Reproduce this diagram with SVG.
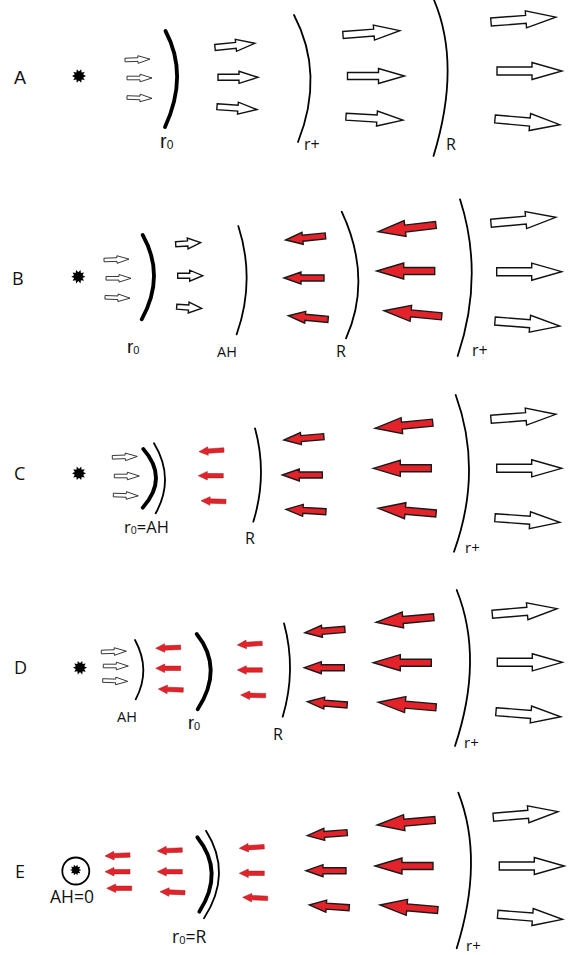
<svg xmlns="http://www.w3.org/2000/svg" xmlns:xlink="http://www.w3.org/1999/xlink" width="573" height="955" viewBox="0 0 573 955">
<style>
.w{fill:#fff;stroke:#111;stroke-width:1.4}
.ws{fill:#fff;stroke:#222;stroke-width:0.9}
.r{fill:#e3222a;stroke:#1a1a1a;stroke-width:1.4}
.rs{fill:#e3222a;stroke:#9a1a1a;stroke-width:0.5}
.arc{fill:none;stroke:#000;stroke-width:1.8;stroke-linecap:round}
.thick{stroke-width:3.8}
.t{font-family:"Open Sans","DejaVu Sans",sans-serif;fill:#111}
.a{font-family:"Liberation Sans",Arial,sans-serif;fill:#111}
.star{fill:#000}
</style>
<defs>
<path id="wL" d="M0,-4 L35,-4 L35,-8.5 L65,0 L35,8.5 L35,4 L0,4 Z"/>
<path id="wA2" d="M0,-3.5 L31,-3.5 L31,-7.5 L57,0 L31,7.5 L31,3.5 L0,3.5 Z"/>
<path id="wM" d="M0,-3 L21,-3 L21,-6 L40,0 L21,6 L21,3 L0,3 Z"/>
<path id="wB" d="M0,-2.5 L12,-2.5 L12,-5.5 L25,0 L12,5.5 L12,2.5 L0,2.5 Z"/>
<path id="wS" d="M0,-1.8 L13,-1.8 L13,-3.8 L25,0 L13,3.8 L13,1.8 L0,1.8 Z"/>
<path id="rL" d="M0,0 L27,-8 L27,-3.5 L58,-3.5 L58,3.5 L27,3.5 L27,8 Z"/>
<path id="rM" d="M0,0 L17,-6 L17,-3 L40,-3 L40,3 L17,3 L17,6 Z"/>
<path id="rS" d="M0,0 L9,-4.3 L9,-2.2 L25,-2.2 L25,2.2 L9,2.2 L9,4.3 Z"/>
<path id="star" d="M7,0 L4.2,1.4 L5.7,4.1 L2.6,3.6 L2.2,6.7 L0,4.4 L-2.2,6.7 L-2.6,3.6 L-5.7,4.1 L-4.2,1.4 L-7,0 L-4.2,-1.4 L-5.7,-4.1 L-2.6,-3.6 L-2.2,-6.7 L0,-4.4 L2.2,-6.7 L2.6,-3.6 L5.7,-4.1 L4.2,-1.4 Z"/>
</defs>

<g id="panel-A">
<text class="a" x="14" y="84" font-size="18">A</text>
<use href="#star" class="star" transform="translate(79,76)"/>
<g id="A-arrows">
<use href="#wS" class="ws" transform="translate(125,60) rotate(-2)"/>
<use href="#wS" class="ws" transform="translate(127,78)"/>
<use href="#wS" class="ws" transform="translate(127,97.5) rotate(2)"/>
<use href="#wM" class="w" transform="translate(215,47.5) rotate(-6)"/>
<use href="#wM" class="w" transform="translate(218,77.3)"/>
<use href="#wM" class="w" transform="translate(217,106.7) rotate(4)"/>
<use href="#wA2" class="w" transform="translate(343,35) rotate(-4.4)"/>
<use href="#wA2" class="w" transform="translate(347.5,76)"/>
<use href="#wA2" class="w" transform="translate(346,116.7) rotate(3.4)"/>
<use href="#wL" class="w" transform="translate(491,22) rotate(-4.3)"/>
<use href="#wL" class="w" transform="translate(497,71)"/>
<use href="#wL" class="w" transform="translate(495,119) rotate(5)"/>
</g>
<path class="arc thick" d="M165.5,31 Q189,75 165,127"/>
<path class="arc" d="M294,15 Q325,74 298,142"/>
<path class="arc" d="M434,0 Q461.5,65 433.5,156"/>
<text class="a" x="160" y="148" font-size="20">r<tspan font-size="12" dy="1">0</tspan></text>
<text class="t" x="304" y="150" font-size="16">r+</text>
<text class="t" x="446" y="150" font-size="16">R</text>
</g>

<g id="panel-B">
<text class="t" x="12" y="285" font-size="18">B</text>
<use href="#star" class="star" transform="translate(78.3,276.7)"/>
<g id="B-arrows">
<use href="#wS" class="ws" transform="translate(104,260) rotate(-2)"/>
<use href="#wS" class="ws" transform="translate(106,278.3)"/>
<use href="#wS" class="ws" transform="translate(105,297.3) rotate(2)"/>
<use href="#wB" class="w" transform="translate(175.7,244.3) rotate(-4)"/>
<use href="#wB" class="w" transform="translate(177.7,275.7)"/>
<use href="#wB" class="w" transform="translate(176.7,306.7) rotate(4)"/>
<use href="#rM" class="r" transform="translate(285.7,240) rotate(-5.9)"/>
<use href="#rM" class="r" transform="translate(284,278)"/>
<use href="#rM" class="r" transform="translate(288.3,315.7) rotate(5.3)"/>
<use href="#rL" class="r" transform="translate(378.3,231.7) rotate(-6.7)"/>
<use href="#rL" class="r" transform="translate(376.7,271)"/>
<use href="#rL" class="r" transform="translate(384,310.7) rotate(5.6)"/>
<use href="#wL" class="w" transform="translate(491,223.3) rotate(-5.3)"/>
<use href="#wL" class="w" transform="translate(496.7,271.7)"/>
<use href="#wL" class="w" transform="translate(495,321) rotate(4.5)"/>
</g>
<path class="arc thick" d="M142.7,235 Q165.8,276 141.7,319.3"/>
<path class="arc" d="M238.3,226 Q255.8,280 236.7,334.3"/>
<path class="arc" d="M341.7,211.7 Q372.8,278.4 346,338.3"/>
<path class="arc" d="M460,199.3 Q484.6,275.7 457.7,356"/>
<text class="a" x="127" y="353" font-size="19">r<tspan font-size="11" dy="1">0</tspan></text>
<text class="t" x="217" y="357" font-size="14.5">AH</text>
<text class="t" x="336" y="357" font-size="16">R</text>
<text class="t" x="472" y="356" font-size="16">r+</text>
</g>

<g id="panel-C">
<text class="t" x="14" y="480" font-size="18">C</text>
<use href="#star" class="star" transform="translate(79,473.3)"/>
<g id="C-arrows">
<use href="#wS" class="ws" transform="translate(112.3,457.3) rotate(-2)"/>
<use href="#wS" class="ws" transform="translate(114.3,476)"/>
<use href="#wS" class="ws" transform="translate(113.3,495) rotate(2)"/>
<use href="#rS" class="rs" transform="translate(199,451.7) rotate(-4)"/>
<use href="#rS" class="rs" transform="translate(198.3,475.7)"/>
<use href="#rS" class="rs" transform="translate(201,500.7) rotate(2)"/>
<use href="#rM" class="r" transform="translate(284,440) rotate(-4.8)"/>
<use href="#rM" class="r" transform="translate(282.3,475)"/>
<use href="#rM" class="r" transform="translate(286,509.3) rotate(3.5)"/>
<use href="#rL" class="r" transform="translate(375,428.3) rotate(-5.6)"/>
<use href="#rL" class="r" transform="translate(373.3,468.3)"/>
<use href="#rL" class="r" transform="translate(378.3,508.3) rotate(5.1)"/>
<use href="#wL" class="w" transform="translate(491,419.3) rotate(-4.4)"/>
<use href="#wL" class="w" transform="translate(496.7,468.3)"/>
<use href="#wL" class="w" transform="translate(495,517.7) rotate(4.1)"/>
</g>
<path class="arc thick" d="M143.3,449 Q169,478.3 142.7,507.7"/>
<path class="arc" d="M154,443.3 Q175.2,478.3 155.7,513.3"/>
<path class="arc" d="M255,428.3 Q267.8,475 253.3,521.7"/>
<path class="arc" d="M455.7,395 Q483.2,470.7 454,551.7"/>
<text class="t" x="124" y="533" font-size="16.5">r<tspan font-size="10.5" dy="1">0</tspan><tspan dy="-1">=AH</tspan></text>
<text class="t" x="245" y="544" font-size="16">R</text>
<text class="t" x="465" y="553" font-size="15">r+</text>
</g>

<g id="panel-D">
<text class="t" x="14" y="674" font-size="18">D</text>
<use href="#star" class="star" transform="translate(80,667.7)"/>
<g id="D-arrows">
<use href="#wS" class="ws" transform="translate(101.3,652) rotate(-2)"/>
<use href="#wS" class="ws" transform="translate(103.3,666)"/>
<use href="#wS" class="ws" transform="translate(102.7,680.5) rotate(2)"/>
<use href="#rS" class="rs" transform="translate(155.7,648.3) rotate(-2.3)"/>
<use href="#rS" class="rs" transform="translate(155.7,668.3)"/>
<use href="#rS" class="rs" transform="translate(158.3,689) rotate(2.3)"/>
<use href="#rS" class="rs" transform="translate(237.3,645) rotate(-3.8)"/>
<use href="#rS" class="rs" transform="translate(237.3,670)"/>
<use href="#rS" class="rs" transform="translate(240.7,695) rotate(1.5)"/>
<use href="#rM" class="r" transform="translate(305,632.7) rotate(-4.8)"/>
<use href="#rM" class="r" transform="translate(304.3,667.7)"/>
<use href="#rM" class="r" transform="translate(307.3,701.7) rotate(4.7)"/>
<use href="#rL" class="r" transform="translate(376,622.3) rotate(-5)"/>
<use href="#rL" class="r" transform="translate(373.3,662.7)"/>
<use href="#rL" class="r" transform="translate(378.3,702.3) rotate(5)"/>
<use href="#wL" class="w" transform="translate(492.3,614.3) rotate(-5)"/>
<use href="#wL" class="w" transform="translate(497.3,662.3)"/>
<use href="#wL" class="w" transform="translate(496,711.7) rotate(4.5)"/>
</g>
<path class="arc" d="M135,640 Q151.3,670 135.7,699.3"/>
<path class="arc thick" d="M196.7,634 Q224.2,668.3 197.7,709.3"/>
<path class="arc" d="M284,623.3 Q296.7,670 282.7,716.7"/>
<path class="arc" d="M456.7,590 Q484.2,658.6 455,746"/>
<text class="t" x="117" y="722" font-size="14.5">AH</text>
<text class="a" x="188" y="729" font-size="18">r<tspan font-size="11" dy="1">0</tspan></text>
<text class="t" x="273" y="740" font-size="16">R</text>
<text class="t" x="464" y="748" font-size="15">r+</text>
</g>

<g id="panel-E">
<text class="t" x="15" y="878" font-size="18">E</text>
<circle cx="75.8" cy="871" r="13.5" fill="none" stroke="#000" stroke-width="1.8"/>
<use href="#star" class="star" transform="translate(75.7,870) scale(0.8)"/>
<text class="t" x="50" y="903" font-size="17.5">AH=0</text>
<g id="E-arrows">
<use href="#rS" class="rs" transform="translate(105,856) rotate(-2.3)"/>
<use href="#rS" class="rs" transform="translate(105,871.7)"/>
<use href="#rS" class="rs" transform="translate(106.7,888.3)"/>
<use href="#rS" class="rs" transform="translate(157.3,851) rotate(-2.3)"/>
<use href="#rS" class="rs" transform="translate(157.3,871.7)"/>
<use href="#rS" class="rs" transform="translate(160,891.7) rotate(2.3)"/>
<use href="#rS" class="rs" transform="translate(239.3,848.3) rotate(-3.7)"/>
<use href="#rS" class="rs" transform="translate(239.3,873.3)"/>
<use href="#rS" class="rs" transform="translate(242.7,897.3) rotate(2.4)"/>
<use href="#rM" class="r" transform="translate(307.3,835.7) rotate(-4.4)"/>
<use href="#rM" class="r" transform="translate(306,870.7)"/>
<use href="#rM" class="r" transform="translate(309.3,905) rotate(3.9)"/>
<use href="#rL" class="r" transform="translate(377.3,825) rotate(-5)"/>
<use href="#rL" class="r" transform="translate(375,866)"/>
<use href="#rL" class="r" transform="translate(380,905) rotate(5)"/>
<use href="#wL" class="w" transform="translate(493.3,817.3) rotate(-5)"/>
<use href="#wL" class="w" transform="translate(499.3,866)"/>
<use href="#wL" class="w" transform="translate(497.7,914.3) rotate(4.5)"/>
</g>
<path class="arc thick" d="M197.3,837.3 Q225,872 199.3,911.7"/>
<path class="arc" d="M206,830.7 Q233,873.3 204,918.3"/>
<path class="arc" d="M458.3,792.7 Q484.5,859.5 456.7,948.3"/>
<text class="t" x="172" y="943" font-size="17.5">r<tspan font-size="11" dy="1">0</tspan><tspan dy="-1">=R</tspan></text>
<text class="t" x="466" y="951" font-size="15">r+</text>
</g>
</svg>
